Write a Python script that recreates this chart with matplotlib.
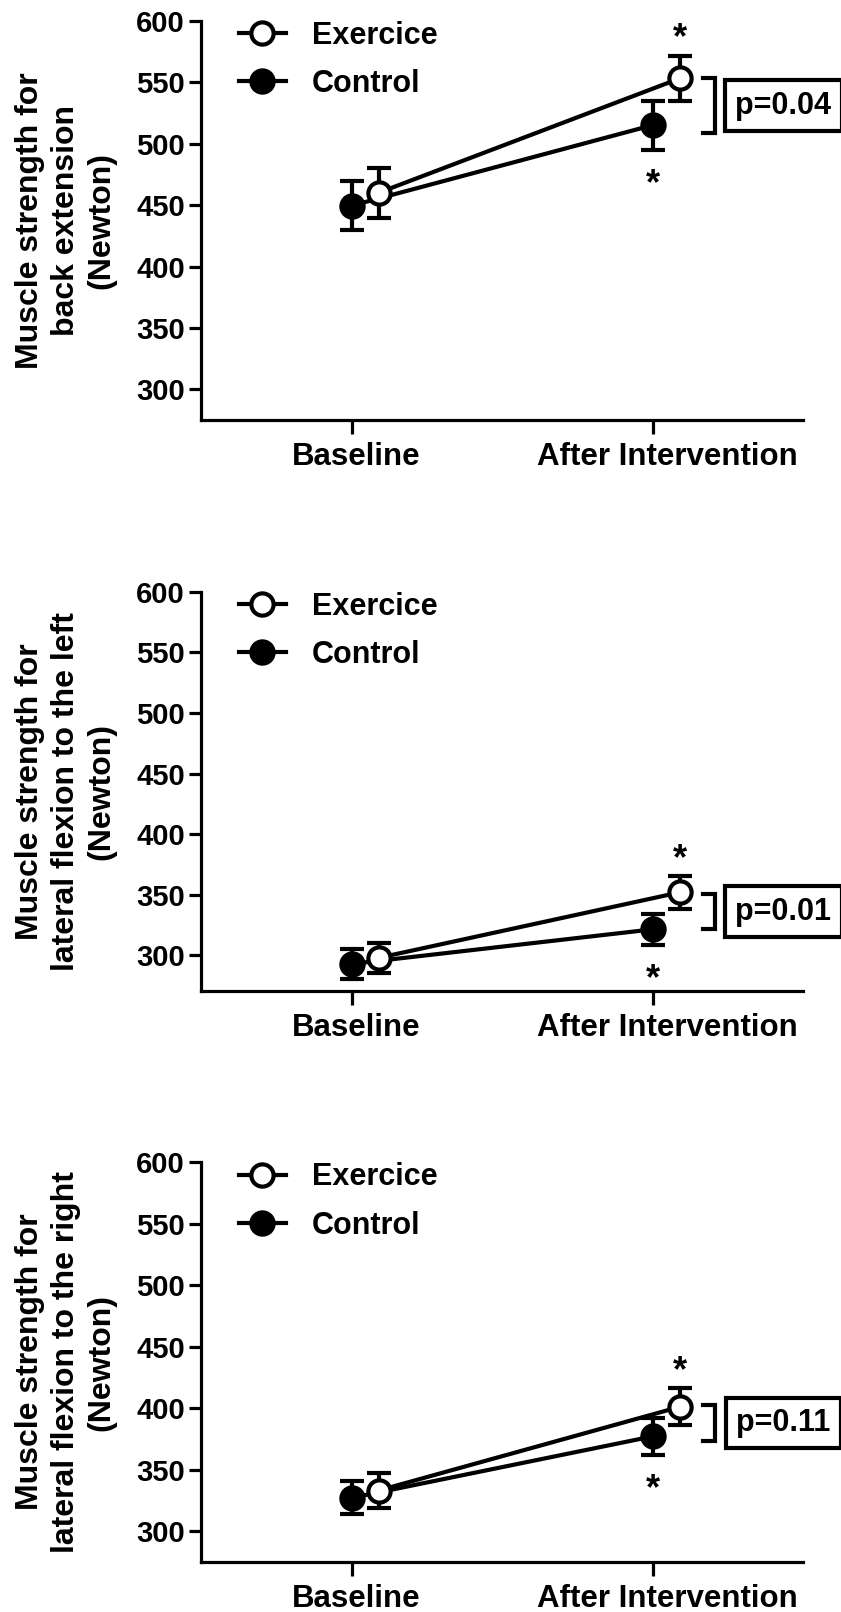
import numpy as np
import matplotlib
matplotlib.use('Agg')
from matplotlib import pyplot as plt

plt.rcParams['font.family'] = ['Liberation Sans', 'DejaVu Sans']
plt.rcParams['font.weight'] = 'bold'

timepoints = ['Baseline', 'After Intervention']
groups = ['Exercice', 'Control']
ylabels = ['Muscle strength for\nback extension\n(Newton)',
           'Muscle strength for\nlateral flexion to the left\n(Newton)',
           'Muscle strength for\nlateral flexion to the right\n(Newton)']

# per panel: [baseline, after intervention]
exercise_mean = [[460, 553], [298, 352], [333, 401]]
exercise_err = [[20.5, 18.5], [12.5, 13.5], [14, 15]]
control_mean = [[449.5, 515], [293, 321.5], [327, 377]]
control_err = [[20, 20], [12.5, 13], [13.5, 15]]
p_labels = ['p=0.04', 'p=0.01', 'p=0.11']
bracket_top = [553, 350.5, 402.5]
bracket_bottom = [509, 321.5, 373.5]
y_bottom = [275, 270.5, 275]
yticks = [300, 350, 400, 450, 500, 550, 600]

W, H = 841, 1612
fig = plt.figure(figsize=(W / 100, H / 100), dpi=100)
panel_tops = [20.7, 591.7, 1162.3]
panel_h = 399.5
ax_left, ax_right = 201, 803

x = np.arange(len(timepoints))
off = 0.09
lw = 3
label_shift = np.array([0.017, 0.05])  # labels sit a little right of the ticks

for i in range(3):
    ax = fig.add_axes([ax_left / W, 1 - (panel_tops[i] + panel_h) / H,
                       (ax_right - ax_left) / W, panel_h / H])
    ex_m, ex_e = np.array(exercise_mean[i]), np.array(exercise_err[i])
    ct_m, ct_e = np.array(control_mean[i]), np.array(control_err[i])

    ax.errorbar(x, ct_m, yerr=ct_e, fmt='none', ecolor='k', elinewidth=lw,
                capsize=8.5, capthick=lw, zorder=2)
    ax.plot(x, ct_m, color='k', lw=lw, marker='o', ms=16, mfc='k', mec='k',
            mew=lw, label=groups[1], zorder=3)
    ax.errorbar(x + off, ex_m, yerr=ex_e, fmt='none', ecolor='k', elinewidth=lw,
                capsize=8.5, capthick=lw, zorder=4)
    ax.plot(x + off, ex_m, color='k', lw=lw, marker='o', ms=16, mfc='white',
            mec='k', mew=lw, label=groups[0], zorder=5)

    # significance asterisks
    ax.annotate('*', xy=(x[1] + off, ex_m[1] + ex_e[1]), xytext=(0, 12),
                textcoords='offset points', ha='center', va='center', fontsize=26)
    ax.annotate('*', xy=(x[1], ct_m[1] - ct_e[1]), xytext=(0, -25),
                textcoords='offset points', ha='center', va='center', fontsize=26)

    # bracket + p value box
    ax.plot([1.167, 1.207, 1.207, 1.167],
            [bracket_top[i], bracket_top[i], bracket_bottom[i], bracket_bottom[i]],
            color='k', lw=lw, clip_on=False, solid_joinstyle='miter')
    ax.text(1.4345, (bracket_top[i] + bracket_bottom[i]) / 2, p_labels[i],
            ha='center', va='center', fontsize=22, clip_on=False,
            bbox=dict(boxstyle='square,pad=0.34', fc='white', ec='k', lw=lw))

    ax.set_xlim(-0.5, 1.5)
    ax.set_ylim(y_bottom[i], 600)
    # tick marks on major ticks, labels on minor ticks nudged right
    ax.set_xticks(x)
    ax.set_xticklabels([])
    ax.set_xticks(x + label_shift, minor=True)
    ax.set_xticklabels(timepoints, minor=True, fontsize=22.5)
    ax.tick_params(axis='x', which='major', length=10, width=2.3)
    ax.tick_params(axis='x', which='minor', length=0, pad=16)
    ax.set_yticks(yticks)
    ax.tick_params(axis='y', labelsize=21, length=8.6, width=2.3, pad=3)
    for s in ['top', 'right']:
        ax.spines[s].set_visible(False)
    for s in ['left', 'bottom']:
        ax.spines[s].set_linewidth(2.3)

    handles, labels = ax.get_legend_handles_labels()
    ax.legend(handles[::-1], labels[::-1], loc='upper left', frameon=False,
              bbox_to_anchor=(0.063, 1.0), borderpad=0, borderaxespad=0,
              fontsize=22, handlelength=1.54, handletextpad=0.85,
              labelspacing=0.6)

    fig.text(66 / W, 1 - (panel_tops[i] + panel_h / 2) / H, ylabels[i],
             rotation=90, ha='center', va='center', fontsize=23,
             multialignment='center', linespacing=1.25)

fig.savefig('out.png', dpi=100)
